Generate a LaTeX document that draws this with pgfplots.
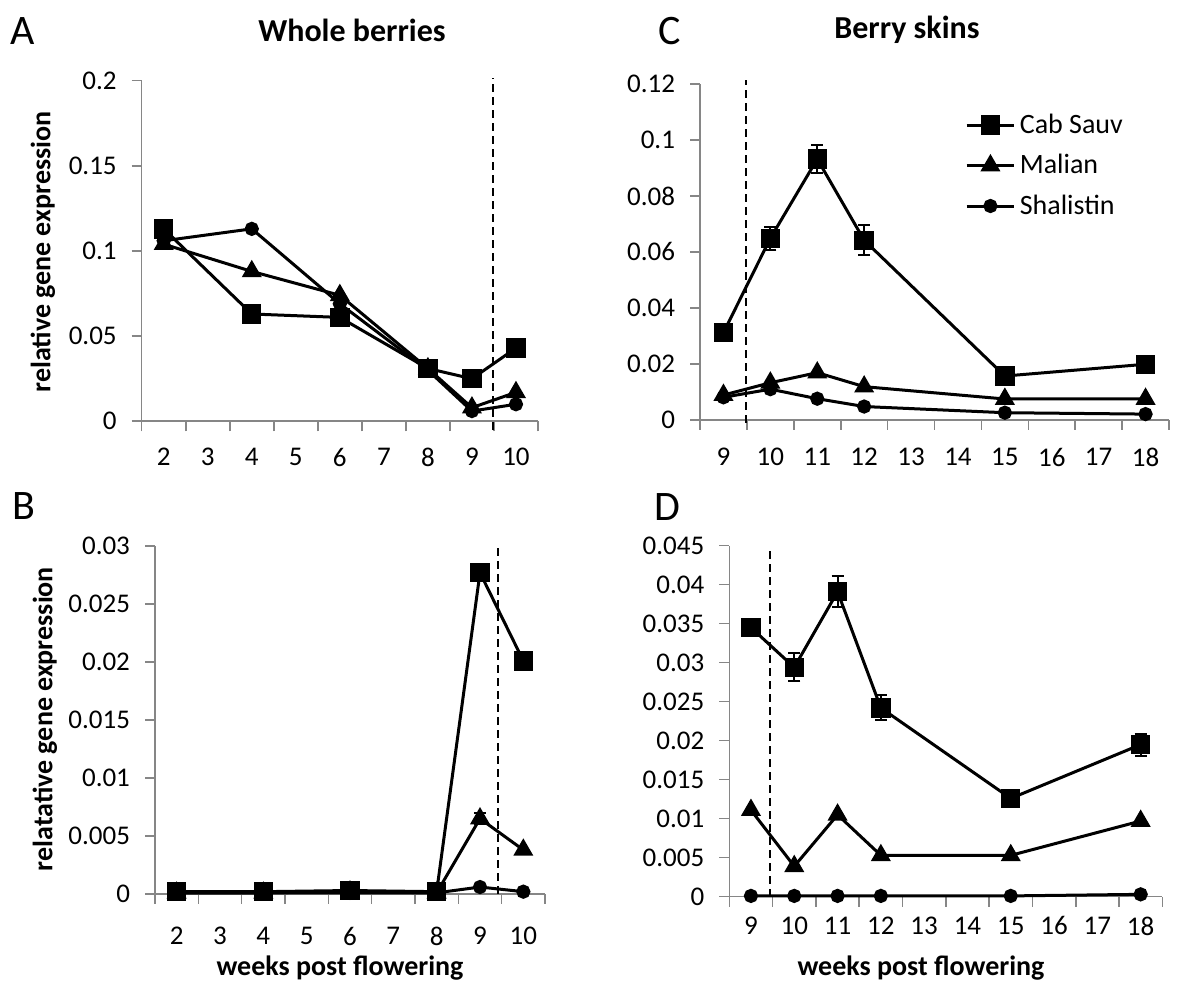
\documentclass[border=0pt]{standalone}
\usepackage{fontspec}
\setmainfont{Carlito}
\usepackage{pgfplots}
\pgfplotsset{compat=1.18}
\definecolor{axgray}{RGB}{134,134,134}
\newcommand{\tickfont}{\fontsize{13.5}{16}\selectfont}
\pgfplotsset{
  panel/.style={
    scale only axis,
    clip=false,
    axis x line*=bottom, axis y line*=left,
    axis line style={draw=axgray, line width=0.8pt},
    tick align=outside,
    major tick length=5pt, minor tick length=5pt,
    major x tick style={draw=none},
    minor x tick style={draw=axgray, line width=0.8pt},
    ytick style={draw=axgray, line width=0.8pt},
    scaled y ticks=false,
    every tick label/.append style={font=\tickfont},
    yticklabel style={xshift=-4pt, /pgf/number format/fixed, /pgf/number format/precision=3,
      /pgf/number format/assume math mode=true},
    ymin=0,
  },
  ser/.style={line width=1.5pt, black, mark options={solid, fill=black}},
  sq/.style={ser, mark=square*, mark size=4.1pt},
  tri/.style={ser, mark=triangle*, mark size=4.3pt},
  cir/.style={ser, mark=*, mark size=2.8pt},
  eb/.style={error bars/.cd, y dir=both, y explicit,
    error bar style={line width=1pt, black},
    error mark options={rotate=90, mark size=3pt, line width=1pt, black}},
  vdash/.style={black, line width=1pt, dash pattern=on 4pt off 2.5pt, forget plot},
}
\begin{document}
\begin{tikzpicture}
\useasboundingbox (0,0) rectangle (588.5pt,494.5pt);

% Panel A
\begin{axis}[panel, at={(70.85pt,283.85pt)}, anchor=south west,
  width=198.15pt, height=170.3pt,
  xmin=-0.5, xmax=8.5, ymax=0.2,
  xtick={0,...,8}, xticklabels={2,3,4,5,6,7,8,9,10},
  minor xtick={-0.5,0.5,...,8.5},
  ytick={0,0.05,0.1,0.15,0.2},
  xticklabel style={yshift=-5pt}]
\addplot[sq] coordinates {(0,0.113)(2,0.063)(4,0.061)(6,0.031)(7,0.025)(8,0.043)};
\addplot[tri] coordinates {(0,0.104)(2,0.088)(4,0.074)(6,0.031)(7,0.008)(8,0.017)};
\addplot[cir] coordinates {(0,0.106)(2,0.113)(4,0.069)(6,0.030)(7,0.006)(8,0.010)};
\addplot[vdash] coordinates {(7.48,-0.005)(7.48,0.2016)};
\end{axis}

% Panel B
\begin{axis}[panel, at={(77.5pt,47.5pt)}, anchor=south west,
  width=195pt, height=174pt,
  xmin=-0.5, xmax=8.5, ymax=0.03,
  xtick={0,...,8}, xticklabels={2,3,4,5,6,7,8,9,10},
  minor xtick={-0.5,0.5,...,8.5},
  ytick={0,0.005,0.01,0.015,0.02,0.025,0.03},
  xticklabel style={yshift=-8pt}]
\addplot[sq] coordinates {(0,0.0002)(2,0.0002)(4,0.0003)(6,0.0002)(7,0.0277)(8,0.0201)};
\addplot[tri, eb] coordinates {(0,0.0001)+-(0,0)(2,0.0001)+-(0,0)(4,0.0002)+-(0,0)(6,0.0001)+-(0,0)(7,0.0065)+-(0,0.0005)(8,0.0038)+-(0,0)};
\addplot[cir] coordinates {(0,0.0001)(2,0.0001)(4,0.0001)(6,0.0001)(7,0.0006)(8,0.0002)};
\addplot[vdash] coordinates {(7.42,0)(7.42,0.0298)};
\end{axis}

% Panel C
\begin{axis}[panel, at={(350pt,284.5pt)}, anchor=south west,
  width=234.5pt, height=168pt,
  xmin=-0.5, xmax=9.5, ymax=0.12,
  xtick={0,...,9}, xticklabels={9,10,11,12,13,14,15,16,17,18},
  minor xtick={-0.5,0.5,...,9.5},
  ytick={0,0.02,0.04,0.06,0.08,0.1,0.12},
  xticklabel style={yshift=-5.5pt},
  legend style={draw=none, fill=none, at={(0.56,0.93)}, anchor=north west,
    font=\fontsize{14}{17}\selectfont, row sep=5pt, inner sep=1pt},
  legend cell align=left,
  legend image code/.code={\draw[mark repeat=2, mark phase=2]
    plot coordinates {(0cm,0cm)(0.42cm,0cm)(0.84cm,0cm)};}]
\addplot[sq, eb] coordinates {(0,0.0312)+-(0,0)(1,0.0649)+-(0,0.0042)(2,0.0932)+-(0,0.0049)(3,0.0642)+-(0,0.0053)(6,0.0157)+-(0,0)(9,0.0199)+-(0,0)};
\addlegendentry{Cab Sauv}
\addplot[tri] coordinates {(0,0.0089)(1,0.0133)(2,0.0169)(3,0.0119)(6,0.0075)(9,0.0075)};
\addlegendentry{Malian}
\addplot[cir] coordinates {(0,0.0081)(1,0.0110)(2,0.0076)(3,0.0048)(6,0.0026)(9,0.0021)};
\addlegendentry{Shalistin}
\addplot[vdash] coordinates {(0.485,-0.001)(0.485,0.1214)};
\end{axis}

% Panel D
\begin{axis}[panel, at={(364.65pt,46.15pt)}, anchor=south west,
  width=216.5pt, height=175.5pt,
  xmin=-0.5, xmax=9.5, ymax=0.045,
  xtick={0,...,9}, xticklabels={9,10,11,12,13,14,15,16,17,18},
  minor xtick={-0.5,0.5,...,9.5},
  ytick={0,0.005,0.01,0.015,0.02,0.025,0.03,0.035,0.04,0.045},
  xticklabel style={yshift=-1.5pt}]
\addplot[sq, eb] coordinates {(0,0.0345)+-(0,0)(1,0.0294)+-(0,0.0018)(2,0.0391)+-(0,0.0020)(3,0.0242)+-(0,0.0016)(6,0.0126)+-(0,0)(9,0.0195)+-(0,0.0014)};
\addplot[tri] coordinates {(0,0.0111)(1,0.0039)(2,0.0105)(3,0.0053)(6,0.0053)(9,0.0097)};
\addplot[cir] coordinates {(0,0.0001)(1,0.0001)(2,0.0001)(3,0.0001)(6,0.0001)(9,0.0003)};
\addplot[vdash] coordinates {(0.44,0)(0.44,0.0444)};
\end{axis}

% Titles and labels
\node[font=\fontsize{21}{24}\selectfont] at (11.2pt,479pt) {A};
\node[font=\fontsize{21}{24}\selectfont] at (335pt,479pt) {C};
\node[font=\fontsize{21}{24}\selectfont] at (11.75pt,241.5pt) {B};
\node[font=\fontsize{21}{24}\selectfont] at (333.75pt,241pt) {D};
\node[font=\fontsize{16}{19}\selectfont\bfseries] at (176pt,479.5pt) {Whole berries};
\node[font=\fontsize{16}{19}\selectfont\bfseries] at (453.5pt,479.5pt) {Berry skins};
\node[font=\fontsize{14}{17}\selectfont\bfseries, rotate=90] at (21.5pt,368.5pt) {relative gene expression};
\node[font=\fontsize{14}{17}\selectfont\bfseries, rotate=90] at (22.5pt,135pt) {relatative gene expression};
\node[font=\fontsize{14}{17}\selectfont\bfseries] at (170pt,10.5pt) {weeks post flowering};
\node[font=\fontsize{14}{17}\selectfont\bfseries] at (460.5pt,10.5pt) {weeks post flowering};
\end{tikzpicture}
\end{document}
